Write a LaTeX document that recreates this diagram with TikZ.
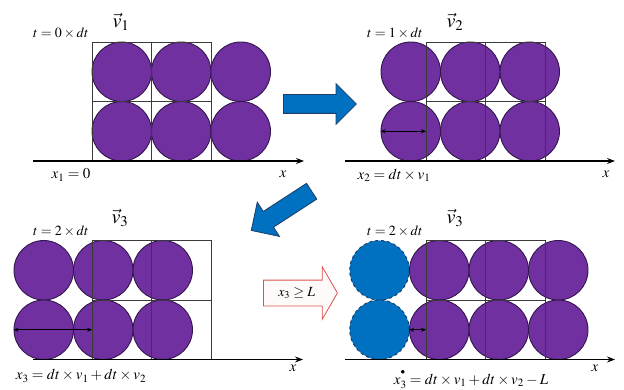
\documentclass[tikz,border=0pt]{standalone}
\usepackage{mathptmx}
\usepackage{tikz}
\usetikzlibrary{shapes, arrows.meta, positioning, calc}
\definecolor{grpurple}{HTML}{7030A0}
\definecolor{grpurpledark}{HTML}{33164D}
\definecolor{grblue}{HTML}{0070C0}
\definecolor{grnavy}{HTML}{1F3D66}
\definecolor{grred}{HTML}{D9534F}
\definecolor{grpink}{HTML}{FFFAFA}
\definecolor{grgrid}{HTML}{3A3A3A}

\begin{document}
\begin{tikzpicture}[
    x=1pt, y=-1pt,
    ball/.style={circle, draw=grpurpledark, fill=grpurple, line width=0.9pt, minimum size=59.5pt, inner sep=0pt},
    ghost/.style={ball, draw=grnavy, fill=grblue, dashed, line width=1pt},
    cell/.style={draw=grgrid, line width=0.7pt},
    xaxis/.style={line width=1.1pt, -{Stealth[length=8pt, width=6pt]}},
    disp/.style={line width=0.9pt, {Stealth[length=5pt, width=4pt]}-{Stealth[length=5pt, width=4pt]}},
    tlab/.style={font=\fontsize{14}{16}\selectfont, anchor=east, inner sep=1pt},
    vlab/.style={font=\fontsize{20}{22}\selectfont, inner sep=0pt},
    xlab/.style={font=\fontsize{15}{17}\selectfont, inner sep=0pt},
    bigarrow/.style={single arrow, draw=grnavy, fill=grblue, line width=0.8pt, inner xsep=0pt, inner ysep=9pt, single arrow head extend=11pt, anchor=tail},
    condarrow/.style={single arrow, draw=grred, fill=grpink, line width=0.8pt, single arrow tip angle=120, single arrow head extend=13.5pt, text height=10pt, text depth=3pt, inner ysep=6pt, inner xsep=4pt, anchor=tail, font=\fontsize{14}{16}\selectfont}
  ]
  \useasboundingbox (0,0) rectangle (624,390);

  % t = 0
  \foreach \i in {0,1,2} \foreach \j in {0,1}
    \node[ball] (a\i\j) at ({121.75+59.5*\i},{71.75+59.5*\j}) {};
  \draw[cell] (92,42) rectangle (211,161) (151.5,42) -- (151.5,161) (92,101.5) -- (211,101.5);
  \coordinate (a-l) at (33,161);
  \coordinate (a-r) at (304,161);
  \draw[xaxis] (a-l) -- (a-r);
  \node[tlab] (ta) at (90,33) {$t=0\times dt$};
  \node[vlab] (va) at (121,22) {$\vec{v}_1$};
  \node[xlab] (xa) at (71,175) {$x_1=0$};
  \node[xlab] (ea) at (283,174) {$x$};

  % t = 1
  \foreach \i in {0,1,2} \foreach \j in {0,1}
    \node[ball] (b\i\j) at ({410.75+59.5*\i},{71.75+59.5*\j}) {};
  \draw[cell] (426,42) rectangle (545,161) (485.5,42) -- (485.5,161) (426,101.5) -- (545,101.5);
  \coordinate (b-g) at (426,131.25);
  \draw[disp] (b01.west) -- (b-g);
  \coordinate (b-l) at (345,161);
  \coordinate (b-r) at (615,161);
  \draw[xaxis] (b-l) -- (b-r);
  \node[tlab] (tb) at (424,33) {$t=1\times dt$};
  \node[vlab] (vb) at (455,22) {$\vec{v}_2$};
  \node[xlab] (xb) at (394,175) {$x_2=dt\times v_1$};
  \node[xlab] (eb) at (606,174) {$x$};

  % t = 2
  \foreach \i in {0,1,2} \foreach \j in {0,1}
    \node[ball] (c\i\j) at ({43.75+59.5*\i},{270.25+59.5*\j}) {};
  \draw[cell] (92,240.5) rectangle (211,359.5) (151.5,240.5) -- (151.5,359.5) (92,300) -- (211,300);
  \coordinate (c-g) at (92,329.75);
  \draw[disp] (c01.west) -- (c-g);
  \coordinate (c-l) at (33,359.5);
  \coordinate (c-r) at (303,359.5);
  \draw[xaxis] (c-l) -- (c-r);
  \node[tlab] (tc) at (90,231) {$t=2\times dt$};
  \node[vlab] (vc) at (120,218) {$\vec{v}_3$};
  \node[xlab] (xc) at (81,376) {$x_3=dt\times v_1+dt\times v_2$};
  \node[xlab] (ec) at (293,368) {$x$};

  % t = 2, periodic shift
  \foreach \j in {0,1}
    \node[ghost] (g\j) at (379.5,{270.25+59.5*\j}) {};
  \foreach \i in {0,1,2} \foreach \j in {0,1}
    \node[ball] (d\i\j) at ({439.25+59.5*\i},{270.25+59.5*\j}) {};
  \draw[cell] (426,240.5) rectangle (545,359.5) (485.5,240.5) -- (485.5,359.5) (426,300) -- (545,300);
  \coordinate (d-g) at (426,329.75);
  \draw[disp] (d01.west) -- (d-g);
  \coordinate (d-l) at (345,359.5);
  \coordinate (d-r) at (615,359.5);
  \draw[xaxis] (d-l) -- (d-r);
  \node[tlab] (td) at (424,231) {$t=2\times dt$};
  \node[vlab] (vd) at (455,218) {$\vec{v}_3$};
  \node[xlab] (xd) at (471,380) {$x^{\raisebox{4pt}{$\scriptscriptstyle\bullet$}}_3=dt\times v_1+dt\times v_2-L$};
  \node[xlab] (ed) at (595,368) {$x$};

  % steps
  \node[bigarrow, minimum height=73pt] (step1) at (283,104) {};
  \node[bigarrow, minimum height=72pt, rotate=213] (step2) at (312,191) {};
  \node[condarrow, minimum height=74pt] (cond) at (263,293) {$x_3\geq L$};
\end{tikzpicture}
\end{document}
